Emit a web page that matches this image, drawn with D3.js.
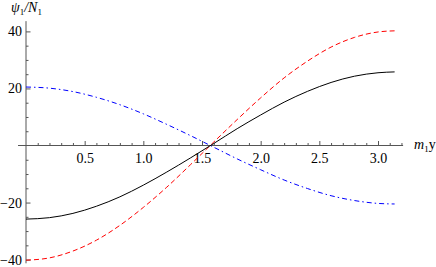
<!DOCTYPE html>
<html>
<head>
<meta charset="utf-8">
<script src="https://cdn.jsdelivr.net/npm/d3@7"></script>
<style>
  body { margin: 0; background: #fff; }
</style>
</head>
<body>
<div id="chart"></div>
<script>
// values
const xs = [0, 0.2, 0.4, 0.6, 0.8, 1.0, 1.2, 1.4, 1.6, 1.8, 2.0, 2.2, 2.4, 2.6, 2.8, 3.0, 3.1416];
const blackVals = [-25.8, -25.3, -23.8, -21.3, -18.0, -13.9, -9.3, -4.4, 0.7, 5.9, 10.7, 15.2, 19.0, 22.1, 24.3, 25.5, 25.8];
const redVals = [-40.2, -39.4, -37.0, -33.2, -28.0, -21.7, -14.6, -6.8, 1.2, 9.1, 16.7, 23.7, 29.6, 34.5, 37.9, 39.8, 40.2];
const blueVals = [20.5, 20.1, 18.9, 16.9, 14.3, 11.1, 7.4, 3.5, -0.6, -4.7, -8.5, -12.1, -15.1, -17.6, -19.3, -20.3, -20.5];
const xTicks = [0.5, 1.0, 1.5, 2.0, 2.5, 3.0];
const yTicks = [-40, -20, 20, 40];

const width = 436, height = 267;
const serif = "Liberation Serif";

const x = d3.scaleLinear().domain([0, 3]).range([26, 378]);
const y = d3.scaleLinear().domain([-40, 40]).range([259.6, 31.4]);

const svg = d3.select("#chart").append("svg")
  .attr("width", width)
  .attr("height", height);

const axisColor = "#555";

// minor ticks
const xMinor = d3.range(1, 33).map(d => d / 10).filter(d => Math.abs(d * 2 - Math.round(d * 2)) > 1e-6);
const yMinor = d3.range(-40, 45, 5).filter(d => d % 20 !== 0);

const gx = svg.append("g").attr("transform", `translate(0,${y(0)})`);
gx.call(d3.axisBottom(x).tickValues(xMinor).tickSize(-2.5).tickFormat(""));
gx.call(g => g.selectAll(".domain").remove());
const gx2 = svg.append("g").attr("transform", `translate(0,${y(0)})`);
gx2.call(d3.axisBottom(x).tickValues(xTicks).tickSize(-4.5).tickPadding(8).tickFormat(d3.format(".1f")));
gx2.call(g => g.selectAll(".domain").remove());

const gy = svg.append("g").attr("transform", `translate(${x(0)},0)`);
gy.call(d3.axisLeft(y).tickValues(yMinor).tickSize(-2.5).tickFormat(""));
gy.call(g => g.selectAll(".domain").remove());
const gy2 = svg.append("g").attr("transform", `translate(${x(0)},0)`);
gy2.call(d3.axisLeft(y).tickValues(yTicks).tickSize(-4.5).tickPadding(4)
  .tickFormat(d => d < 0 ? "\u2212" + Math.abs(d) : d));
gy2.call(g => g.selectAll(".domain").remove());

svg.selectAll(".tick line").attr("stroke", axisColor);
svg.selectAll(".tick text").attr("fill", "#000")
  .attr("font-family", serif).attr("font-size", 14);

// axis lines
svg.append("line")
  .attr("x1", x(-0.068)).attr("x2", x(3.214))
  .attr("y1", y(0)).attr("y2", y(0))
  .attr("stroke", axisColor);
svg.append("line")
  .attr("x1", x(0)).attr("x2", x(0))
  .attr("y1", y(43.6)).attr("y2", y(-41.3))
  .attr("stroke", axisColor);

// curves
const line = d3.line()
  .x((d, i) => x(xs[i]))
  .y(d => y(d))
  .curve(d3.curveMonotoneX);

svg.append("path").datum(blueVals)
  .attr("fill", "none").attr("stroke", "#0000ff").attr("stroke-width", 1)
  .attr("stroke-dasharray", "5,3,1.5,3")
  .attr("d", line);

svg.append("path").datum(redVals)
  .attr("fill", "none").attr("stroke", "#ff0000").attr("stroke-width", 1)
  .attr("stroke-dasharray", "5,3")
  .attr("d", line);

svg.append("path").datum(blackVals)
  .attr("fill", "none").attr("stroke", "#000").attr("stroke-width", 1)
  .attr("d", line);

// axis labels
const yl = svg.append("text").attr("x", 11).attr("y", 12)
  .attr("font-family", serif).attr("font-size", 14);
yl.append("tspan").attr("font-style", "italic").text("ψ");
yl.append("tspan").attr("dy", 3).attr("font-size", 9).text("1");
yl.append("tspan").attr("dy", -3).attr("font-style", "italic").text("/N");
yl.append("tspan").attr("dy", 3).attr("font-size", 9).text("1");

const xl = svg.append("text").attr("x", 414).attr("y", 149)
  .attr("font-family", serif).attr("font-size", 14);
xl.append("tspan").attr("font-style", "italic").text("m");
xl.append("tspan").attr("dy", 3).attr("font-size", 9).text("1");
xl.append("tspan").attr("dy", -3).text("y");
</script>
</body>
</html>
